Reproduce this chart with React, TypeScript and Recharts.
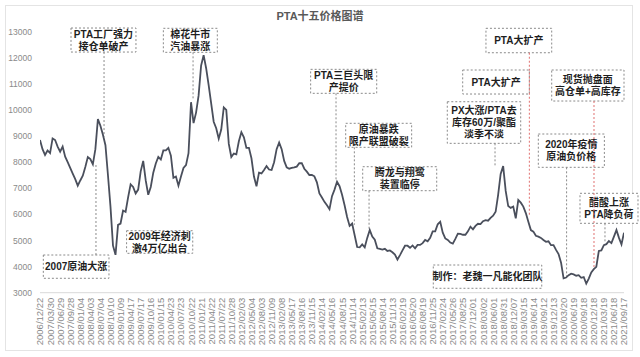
import React from 'react';
import { LineChart, Line, XAxis, YAxis, ReferenceArea, ReferenceLine } from 'recharts';

const tickLabels = [
  '2006/12/22', '2007/03/30', '2007/06/29', '2007/09/28', '2008/01/04', '2008/04/03', '2008/07/04', '2008/10/10',
  '2009/01/09', '2009/04/17', '2009/07/17', '2009/10/16', '2010/01/15', '2010/04/23', '2010/07/23', '2010/10/22',
  '2011/01/21', '2011/04/22', '2011/07/22', '2011/10/28', '2012/02/03', '2012/05/04', '2012/08/03', '2012/11/09',
  '2013/02/08', '2013/05/17', '2013/08/16', '2013/11/15', '2014/02/14', '2014/05/16', '2014/08/15', '2014/11/14',
  '2015/02/13', '2015/05/15', '2015/08/14', '2015/11/13', '2016/02/19', '2016/05/20', '2016/08/19', '2016/11/25',
  '2017/02/24', '2017/05/26', '2017/08/25', '2017/12/01', '2018/03/02', '2018/06/01', '2018/08/31', '2018/12/07',
  '2019/03/15', '2019/06/14', '2019/09/12', '2019/12/13', '2020/03/20', '2020/06/19', '2020/09/18', '2020/12/18',
  '2021/03/19', '2021/06/18', '2021/09/17',
];

// price readings, 4 per tick interval
const samplesPerTick = 4;
const prices = [
  8850, 8500, 8280, 8450,
  8350, 8910, 8850, 8600,
  8400, 8600, 8210, 8000,
  7780, 7560, 7350, 7100,
  7300, 7480, 7820, 8200,
  8120, 7920, 8500, 9650,
  9400, 9050, 8650, 7500,
  6300, 4800, 4450, 5600,
  5650, 6150, 6100, 6650,
  7150, 7050, 6800, 6950,
  7650, 8050, 7300, 6750,
  7050, 7600, 7950, 8200,
  8100, 8450, 8450, 8550,
  8250, 7400, 7450, 7100,
  7450, 7780, 7890, 8350,
  10300, 9500, 9900, 10550,
  11700, 12100, 11600, 10950,
  10250, 9550, 9300, 8900,
  9250, 10100, 10000, 8700,
  8200, 8330, 8300, 8800,
  9150, 8950, 8550, 8550,
  8150, 7450, 7080, 7600,
  7570, 7700, 7850, 7720,
  7700, 8000, 8500, 8750,
  8500, 8050, 7800, 7750,
  7780, 7800, 7830, 7960,
  7960, 7750, 7640, 7510,
  7510, 7460, 7230, 6800,
  6650, 6480, 6350, 6200,
  6700, 6950, 7250, 7080,
  6750, 6350, 5900, 5560,
  5650, 5200, 4750, 4740,
  4850, 4740, 5100, 5400,
  5150, 5030, 4700, 4680,
  4650, 4680, 4600, 4620,
  4550, 4460, 4270, 4440,
  4620, 4800, 4800, 4720,
  4810, 4700, 4830, 4830,
  4900, 5020, 4970, 5100,
  5350, 5350, 5620, 5720,
  5300, 5080, 5020, 4920,
  4880, 5060, 5260, 5250,
  5220, 5220, 5350, 5530,
  5430, 5560, 5640, 5630,
  5740, 5780, 5760, 5870,
  5950, 6100, 6750, 7550,
  7850, 6900, 6320, 6250,
  6300, 5850, 6550, 6450,
  6300, 6050, 5720, 5400,
  5340, 5180, 5150, 5100,
  5020, 4950, 4970, 4820,
  4820, 4640, 4480, 4150,
  3550, 3580, 3670, 3730,
  3700, 3650, 3670, 3570,
  3600, 3350, 3540, 3780,
  3900, 3990, 4600, 4620,
  4820, 4860, 4980, 4900,
  5150, 5400, 5100, 4850,
  5300,
];

const yTicks = [3000, 4000, 5000, 6000, 7000, 8000, 9000, 10000, 11000, 12000, 13000];

// annotation boxes (data units: tick index / price)
const notes = [
  { lines: ['PTA工厂强力', '接仓单破产'], t1: 3.08, t2: 9.53, v1: 12221, v2: 13141 },
  { lines: ['2007原油大涨'], t1: 0.33, t2: 6.85, v1: 3552, v2: 4444 },
  { lines: ['棉花牛市', '汽油暴涨'], t1: 12.25, t2: 17.61, v1: 12210, v2: 13130 },
  { lines: ['2009年经济刺', '激4万亿出台'], t1: 8.6, t2: 15.17, v1: 4509, v2: 5375 },
  { lines: ['PTA三巨头限', '产提价'], t1: 26.88, t2: 33.44, v1: 10639, v2: 11558 },
  { lines: ['原油暴跌', '限产联盟破裂'], t1: 30.36, t2: 36.91, v1: 8570, v2: 9490 },
  { lines: ['腾龙与翔鹭', '装置临停'], t1: 32.05, t2: 39.4, v1: 6908, v2: 7827 },
  { lines: ['PX大涨/PTA去', '库存60万/聚酯', '淡季不淡'], t1: 40.45, t2: 47.74, v1: 8723, v2: 10317 },
  { lines: ['PTA大扩产'], t1: 41.98, t2: 48.6, v1: 10612, v2: 11532 },
  { lines: ['PTA大扩产'], t1: 44.29, t2: 50.82, v1: 12194, v2: 13130 },
  { lines: ['现货抛盘面', '高仓单+高库存'], t1: 50.82, t2: 58.0, v1: 10344, v2: 11532 },
  { lines: ['2020年疫情', '原油负价格'], t1: 49.49, t2: 56.05, v1: 7804, v2: 9080 },
  { lines: ['醋酸上涨', 'PTA降负荷'], t1: 53.63, t2: 59.39, v1: 5659, v2: 6808 },
  { lines: ['制作：老魏一凡能化团队'], t1: 39.06, t2: 49.83, v1: 3169, v2: 4061 },
];

// dotted connectors (tick index, from price, to price, red?)
const connectors = [
  { t: 6.36, from: 12221, to: 8980, red: false },
  { t: 5.56, from: 4444, to: 7950, red: false },
  { t: 15.2, from: 12210, to: 10420, red: false },
  { t: 29.4, from: 10639, to: 7300, red: false },
  { t: 31.22, from: 8570, to: 5600, red: false },
  { t: 32.68, from: 6908, to: 5400, red: false },
  { t: 45.19, from: 8723, to: 7830, red: false },
  { t: 48.6, from: 12194, to: 5950, red: true },
  { t: 55.02, from: 10344, to: 3900, red: true },
  { t: 52.3, from: 7804, to: 3620, red: false },
  { t: 56.11, from: 5659, to: 4890, red: false },
];

const data = prices.map((p, i) => ({ t: i / samplesPerTick, price: p }));
const xTicks = tickLabels.map((_, i) => i);

const CJK = '"Liberation Sans", "Noto Sans CJK SC", Arial, sans-serif';

const makeBox = (lines: string[]) => (props: any) => {
  const { x, y, width, height } = props;
  const fs = 10;
  const lh = 12;
  const cx = x + width / 2;
  const cy = y + height / 2;
  const start = cy - ((lines.length - 1) * lh) / 2 + fs * 0.36;
  return (
    <g>
      <rect x={x} y={y} width={width} height={height} fill="#ffffff" stroke="#8a8a8a" strokeWidth={1} strokeDasharray="2 2" />
      {lines.map((l, i) => (
        <text key={i} x={cx} y={start + i * lh} textAnchor="middle" fontSize={fs} fontWeight="bold" fill="#1e1e1e" fontFamily={CJK}>
          {l}
        </text>
      ))}
    </g>
  );
};

const XTick = (props: any) => {
  const { x, y, payload } = props;
  const label = tickLabels[payload.value] ?? '';
  return (
    <text
      x={x}
      y={y}
      transform={`rotate(-90, ${x}, ${y})`}
      textAnchor="end"
      dominantBaseline="central"
      fontSize={9.5}
      fill="#8a8a8a"
      fontFamily='"Liberation Sans", Arial, sans-serif'
    >
      {label}
    </text>
  );
};

export default function App() {
  return (
    <div style={{ position: 'absolute', left: 0, top: 0, width: 640, height: 357, background: '#ffffff', overflow: 'hidden' }}>
      <div style={{ position: 'absolute', left: 5, top: 5, width: 626, height: 344, border: '1px solid #e4e4e4' }} />
      <div
        style={{
          position: 'absolute', left: 0, top: 9, width: 640, textAlign: 'center',
          fontFamily: CJK, fontWeight: 'bold', fontSize: 11, color: '#595959', lineHeight: '14px',
        }}
      >
        PTA十五价格图谱
      </div>
      <div style={{ position: 'absolute', left: 0, top: 0 }}>
        <LineChart width={640} height={357} data={data} margin={{ top: 31.7, right: 16, bottom: 4, left: 0 }}>
          <XAxis
            dataKey="t"
            type="number"
            domain={[0, 58]}
            ticks={xTicks}
            interval={0}
            tick={<XTick />}
            tickLine={false}
            tickSize={0}
            tickMargin={5}
            axisLine={{ stroke: '#d9d9d9' }}
            height={60.3}
            allowDataOverflow
          />
          <YAxis
            type="number"
            domain={[3000, 13000]}
            ticks={yTicks}
            interval={0}
            width={40}
            axisLine={false}
            tickLine={false}
            tick={{ fontSize: 8.5, fill: '#8a8a8a', fontFamily: '"Liberation Sans", Arial, sans-serif' }}
          />
          {connectors.map((c, i) => (
            <ReferenceLine
              key={'c' + i}
              segment={[{ x: c.t, y: c.from }, { x: c.t, y: c.to }]}
              stroke={c.red ? '#e07070' : '#8a8a8a'}
              strokeWidth={1}
              strokeDasharray="2 2"
              ifOverflow="visible"
            />
          ))}
          <Line
            type="linear"
            dataKey="price"
            stroke="#4a4f5c"
            strokeWidth={1.8}
            dot={false}
            isAnimationActive={false}
          />
          {notes.map((n, i) => (
            <ReferenceArea
              key={'n' + i}
              x1={n.t1}
              x2={n.t2}
              y1={n.v1}
              y2={n.v2}
              ifOverflow="visible"
              shape={makeBox(n.lines)}
            />
          ))}
        </LineChart>
      </div>
    </div>
  );
}
